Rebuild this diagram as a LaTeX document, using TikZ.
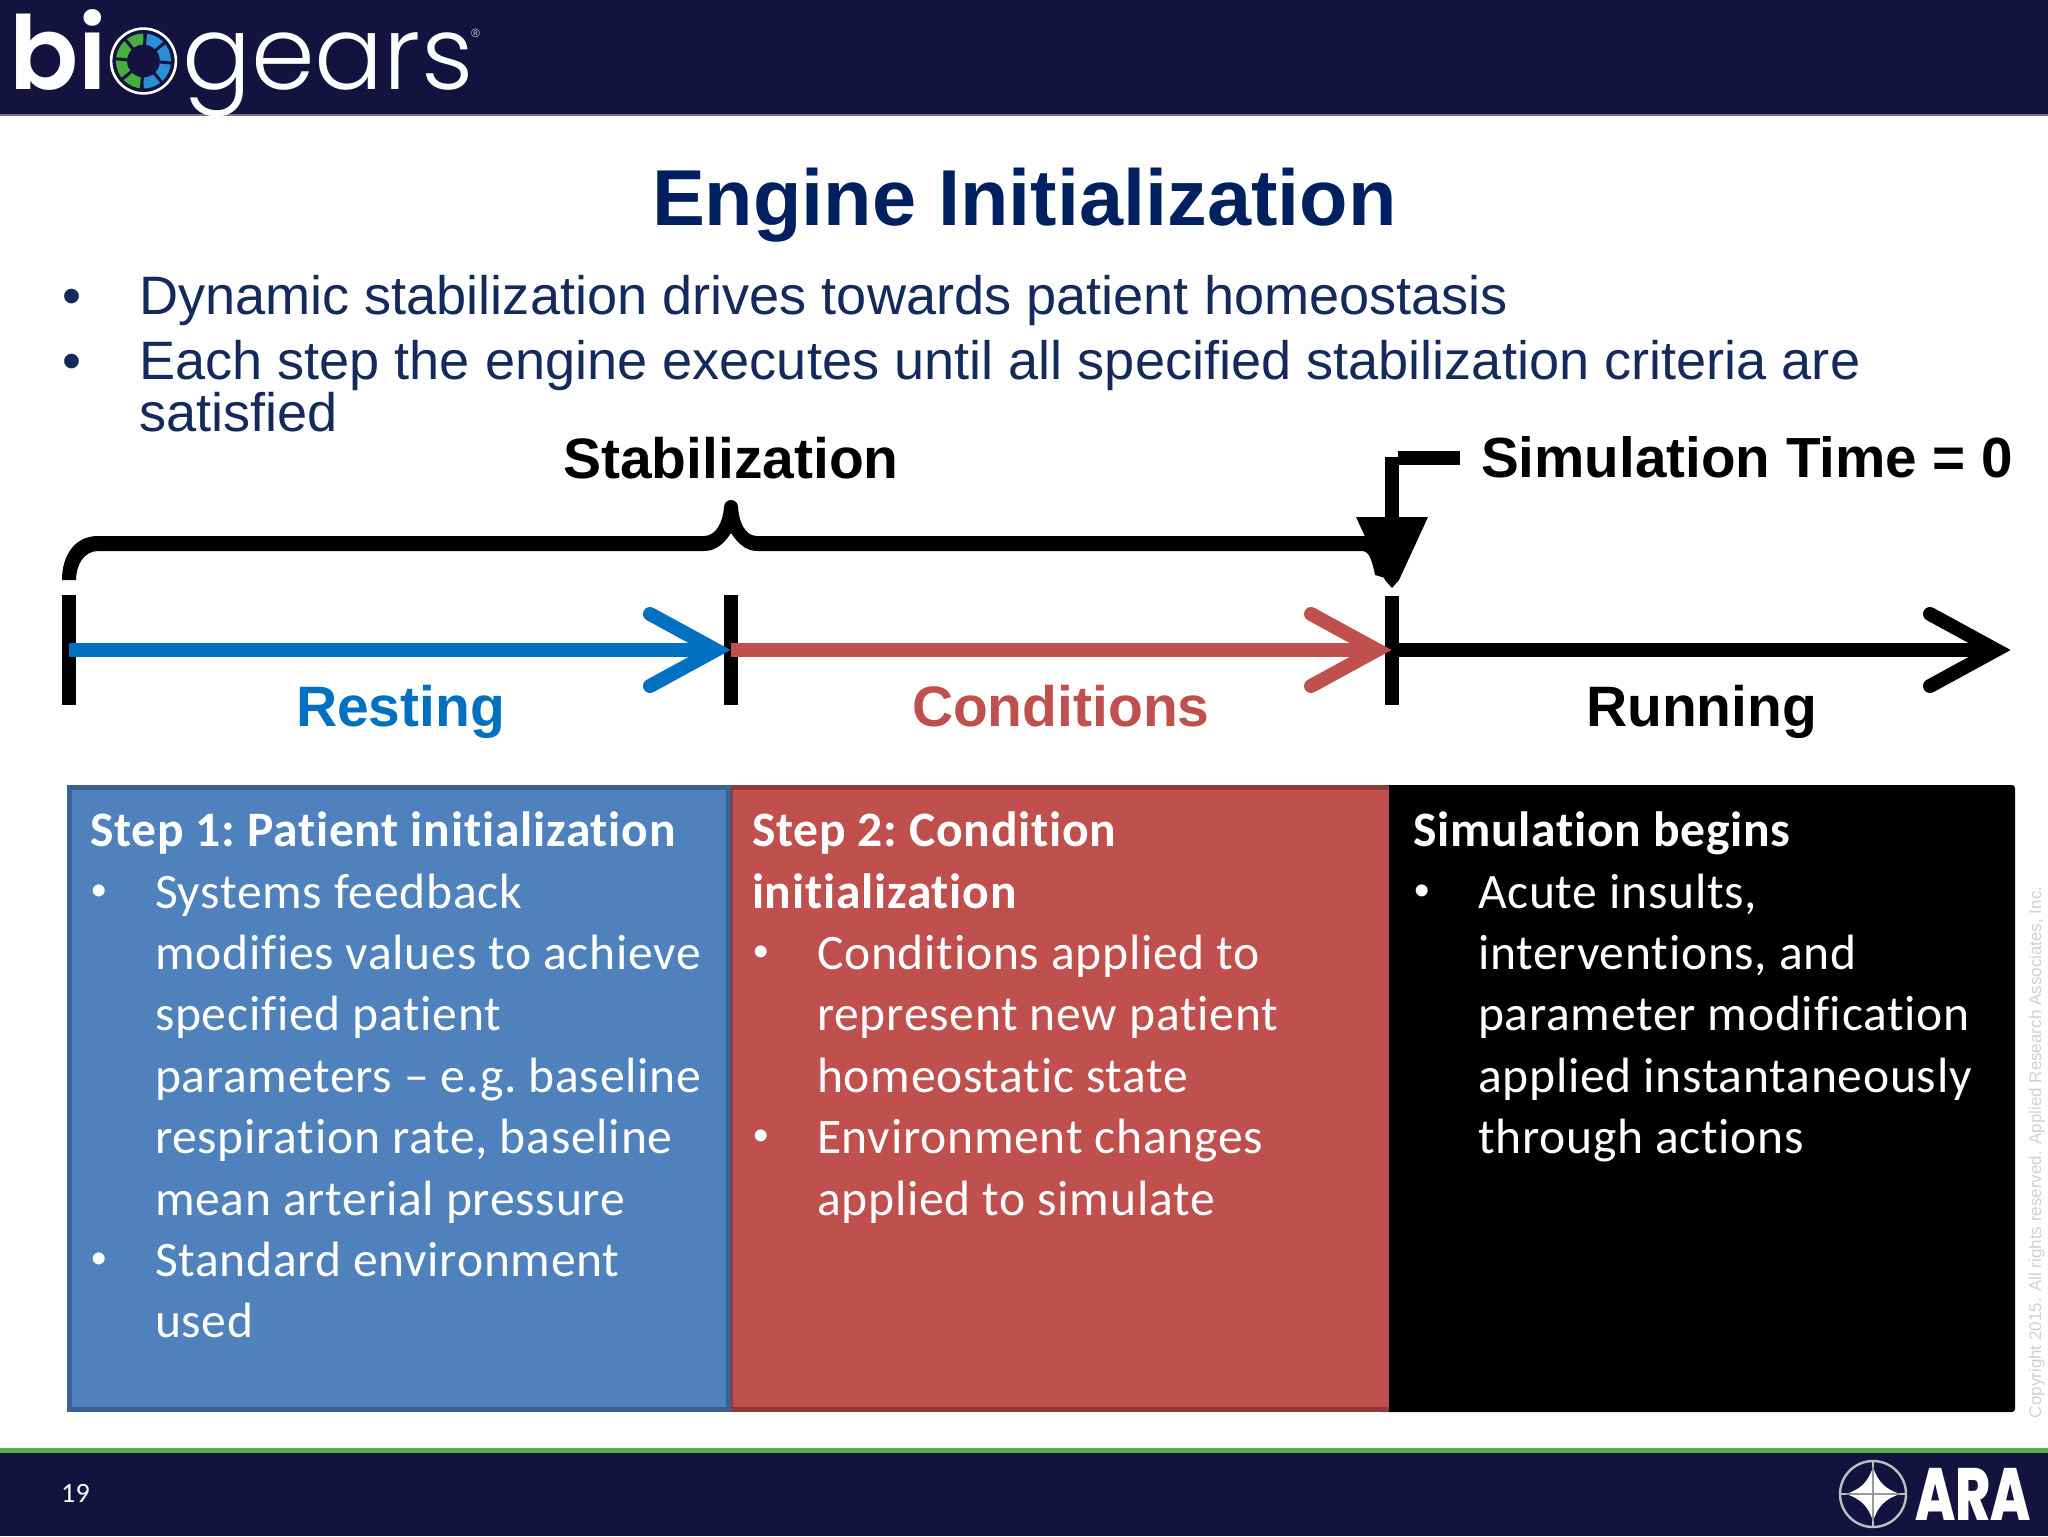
\documentclass[tikz,border=0pt]{standalone}
\usepackage{fontspec}
\setmainfont{Liberation Sans}
\newfontfamily\carlitof{Carlito}[LetterSpace=1.5,Ligatures=NoCommon]
\newfontfamily\logolight{Poppins Light}
\newfontfamily\logobold{Poppins}[UprightFont=* SemiBold]
\newfontfamily\araf{Poppins}[UprightFont=* ExtraBold]
\definecolor{hdr}{HTML}{14123F}
\definecolor{navy}{HTML}{002060}
\definecolor{body}{HTML}{14295C}
\definecolor{restc}{HTML}{0070C0}
\definecolor{condc}{HTML}{C0504D}
\definecolor{bluefill}{HTML}{4F81BD}
\definecolor{blueedge}{HTML}{3A6190}
\definecolor{rededge}{HTML}{8F3A38}
\definecolor{barg}{HTML}{5CAD4E}
\definecolor{gearb}{HTML}{2B8FD3}
\definecolor{gearg}{HTML}{46AE3F}
\tikzset{
 t/.style={anchor=base west,inner sep=0pt,outer sep=0pt},
 tbul/.style={t,font=\frenchspacing\fontsize{27.07}{27}\selectfont,text=body},
 tbig/.style={t,font=\fontsize{28.5}{28}\selectfont\bfseries},
 tbox/.style={t,font=\frenchspacing\carlitof\fontsize{24.8}{24}\selectfont,text=white},
 tboxb/.style={t,font=\frenchspacing\carlitof\fontsize{24.8}{24}\selectfont\bfseries,text=white},
 tdot/.style={t,font=\fontsize{22}{22}\selectfont,text=white},
 thick14/.style={line width=7pt},
 barbed/.style={line width=7pt,line cap=round,line join=miter,miter limit=10},
}
\begin{document}
\begin{tikzpicture}[x=0.5pt,y=-0.5pt]
\useasboundingbox (0,0) rectangle (2048,1536);
\fill[white] (0,0) rectangle (2048,1536);
% header and footer
\fill[hdr] (0,0) rectangle (2048,114);
\fill[hdr!60!white] (0,114) rectangle (2048,116);
\fill[barg] (0,1448) rectangle (2048,1453);
\fill[hdr] (0,1453) rectangle (2048,1536);
% biogears logo
\node[t,font=\logobold\fontsize{51}{51}\selectfont,text=white] (bi) at (9.5,90) {bi};
\draw[white,line width=1.3pt] (143.5,61) circle[radius=16.2pt];
\draw[gearb,line width=5.5pt] (143.5,39) arc[start angle=90,end angle=-90,radius=11pt];
\draw[gearg,line width=5.5pt] (143.5,83) arc[start angle=270,end angle=90,radius=11pt];
\draw[hdr,line width=5.9pt,dash pattern=on 1.5pt off 7.14pt] (143.5,39) arc[start angle=90,end angle=-270,radius=11pt];
\node[t,font=\logolight\fontsize{51.2}{51}\selectfont,text=white] (gears) at (182,90) {gears};
\node[t,font=\fontsize{6}{6}\selectfont,text=white!80!hdr] (reg) at (471,38) {®};
% title and bullets
\node[t,font=\fontsize{39.65}{40}\selectfont\bfseries,text=navy] (title) at (652,225) {Engine Initialization};
\node[tbul] (b1) at (62,314.5) {•};
\node[tbul] (l1) at (139,314.5) {Dynamic stabilization drives towards patient homeostasis};
\node[tbul] (b2) at (62,379.5) {•};
\node[tbul] (l2) at (139,379.5) {Each step the engine executes until all specified stabilization criteria are};
\node[tbul] (l3) at (139,431) {satisfied};
% labels
\node[tbig] (stab) at (563,478) {Stabilization};
\node[tbig,font=\fontsize{28.3}{28}\selectfont\bfseries] (simt) at (1481,477) {Simulation Time = 0};
\node[tbig,text=restc] (rest) at (296,726) {Resting};
\node[tbig,text=condc] (cond) at (912,726) {Conditions};
\node[tbig] (runn) at (1586,726) {Running};
% coordinates
\coordinate (t1a) at (69,595); \coordinate (t1b) at (69,705);
\coordinate (t2a) at (731,595); \coordinate (t2b) at (731,705);
\coordinate (t3a) at (1392,596); \coordinate (t3b) at (1392,705);
% brace
\fill[black] (62,580) .. controls (62,555) and (75,536) .. (98,536) -- (704,536)
  .. controls (716,536) and (723,522) .. (724,507) arc[start angle=180,end angle=0,radius=3.5pt]
  .. controls (739,522) and (745,536) .. (757,536) -- (1365,536)
  .. controls (1378,536) and (1385,560) .. (1392,580)
  -- (1375,575) .. controls (1372,560) and (1369,551) .. (1362,551) -- (757,551)
  .. controls (745,551) and (737,542) .. (731,533)
  .. controls (725,542) and (717,551) .. (704,551) -- (98,551)
  .. controls (84,551) and (76,565) .. (76,580) -- cycle;
% simulation time pointer
\draw[thick14] (1398,458) -- (1460,458);
\draw[thick14] (1392,457) -- (1392,520);
\fill[black] (1356,517) -- (1428,517) -- (1399,580) -- (1392,588) -- (1385,580) -- cycle;
% ticks
\draw[thick14] (t1a) -- (t1b);
\draw[thick14] (t2a) -- (t2b);
\draw[thick14] (t3a) -- (t3b);
% arrows
\coordinate (a1) at (69,650); \coordinate (a2) at (731,650); \coordinate (a3) at (1392,650);
\draw[thick14] (a3) -- (1996,650);
\draw[barbed] (1930,614) -- (1996,650) -- (1930,686);
\draw[thick14,restc] (a1) -- (716,650);
\draw[barbed,restc] (650,614) -- (716,650) -- (650,686);
\draw[thick14,condc] (a2) -- (1377,650);
\draw[barbed,condc] (1311,614) -- (1377,650) -- (1311,686);
% boxes
\fill[black,rounded corners=1.5pt] (1380,785) rectangle (2015,1412);
\fill[condc] (728,785) rectangle (1389,1412);
\fill[rededge] (728,785) rectangle (1389,790);
\fill[rededge] (728,785) rectangle (733,1412);
\fill[rededge] (728,1407) rectangle (1389,1412);
\draw[fill=bluefill,draw=blueedge,line width=2.5pt] (69.5,787.5) rectangle (728,1409.5);
% box 1
\node[tboxb] (h1) at (90,846) {Step 1: Patient initialization};
\node[tdot] (p1) at (91,905) {•};
\foreach \n/\y/\s in {a/908/Systems feedback,b/969/modifies values to achieve,c/1030/specified patient,d/1092/parameters – e.g. baseline,e/1153/{respiration rate, baseline},f/1215/mean arterial pressure,g/1276/Standard environment,h/1337/used}
  \node[tbox] (bx\n) at (155,\y) {\s};
\node[tdot] (p2) at (91,1273) {•};
% box 2
\node[tboxb] (h2) at (752,846) {Step 2: Condition};
\node[tboxb] (h2b) at (752,908) {initialization};
\node[tdot] (p3) at (753,966) {•};
\foreach \n/\y/\s in {a/969/Conditions applied to,b/1030/represent new patient,c/1092/homeostatic state,d/1153/Environment changes,e/1215/applied to simulate}
  \node[tbox] (cx\n) at (817,\y) {\s};
\node[tdot] (p4) at (753,1150) {•};
% box 3
\node[tboxb] (h3) at (1413,846) {Simulation begins};
\node[tdot] (p5) at (1414,905) {•};
\foreach \n/\y/\s in {a/908/{Acute insults,},b/969/{interventions, and},c/1030/parameter modification,d/1092/applied instantaneously,e/1153/through actions}
  \node[tbox] (dx\n) at (1478,\y) {\s};
% copyright
\node[t,rotate=90,font=\fontsize{8.5}{9}\selectfont,text=black!18] (copy) at (2041,1418) {Copyright 2015. All rights reserved. Applied Research Associates, Inc.};
% footer
\node[t,font=\carlitof\fontsize{14}{14}\selectfont,text=white] (pg) at (61,1502) {19};
% ARA logo
\draw[black!25!white,line width=1.2pt] (1873,1494) circle[radius=16.5pt];
\draw[black!25!white,line width=1.1pt] (1873,1461) -- (1873,1527) (1840,1494) -- (1906,1494);
\fill[white] (1873,1467) .. controls (1878,1482) and (1885,1489) .. (1900,1494) .. controls (1885,1499) and (1878,1506) .. (1873,1521) .. controls (1868,1506) and (1861,1499) .. (1846,1494) .. controls (1861,1489) and (1868,1482) .. (1873,1467) -- cycle;
\draw[black!40!white,line width=0.6pt] (1873,1467) -- (1873,1521) (1846,1494) -- (1900,1494);
\node[t,font=\araf\fontsize{37}{37}\selectfont,text=white,xscale=.72] (ara) at (1915,1520) {ARA};
\end{tikzpicture}
\end{document}
